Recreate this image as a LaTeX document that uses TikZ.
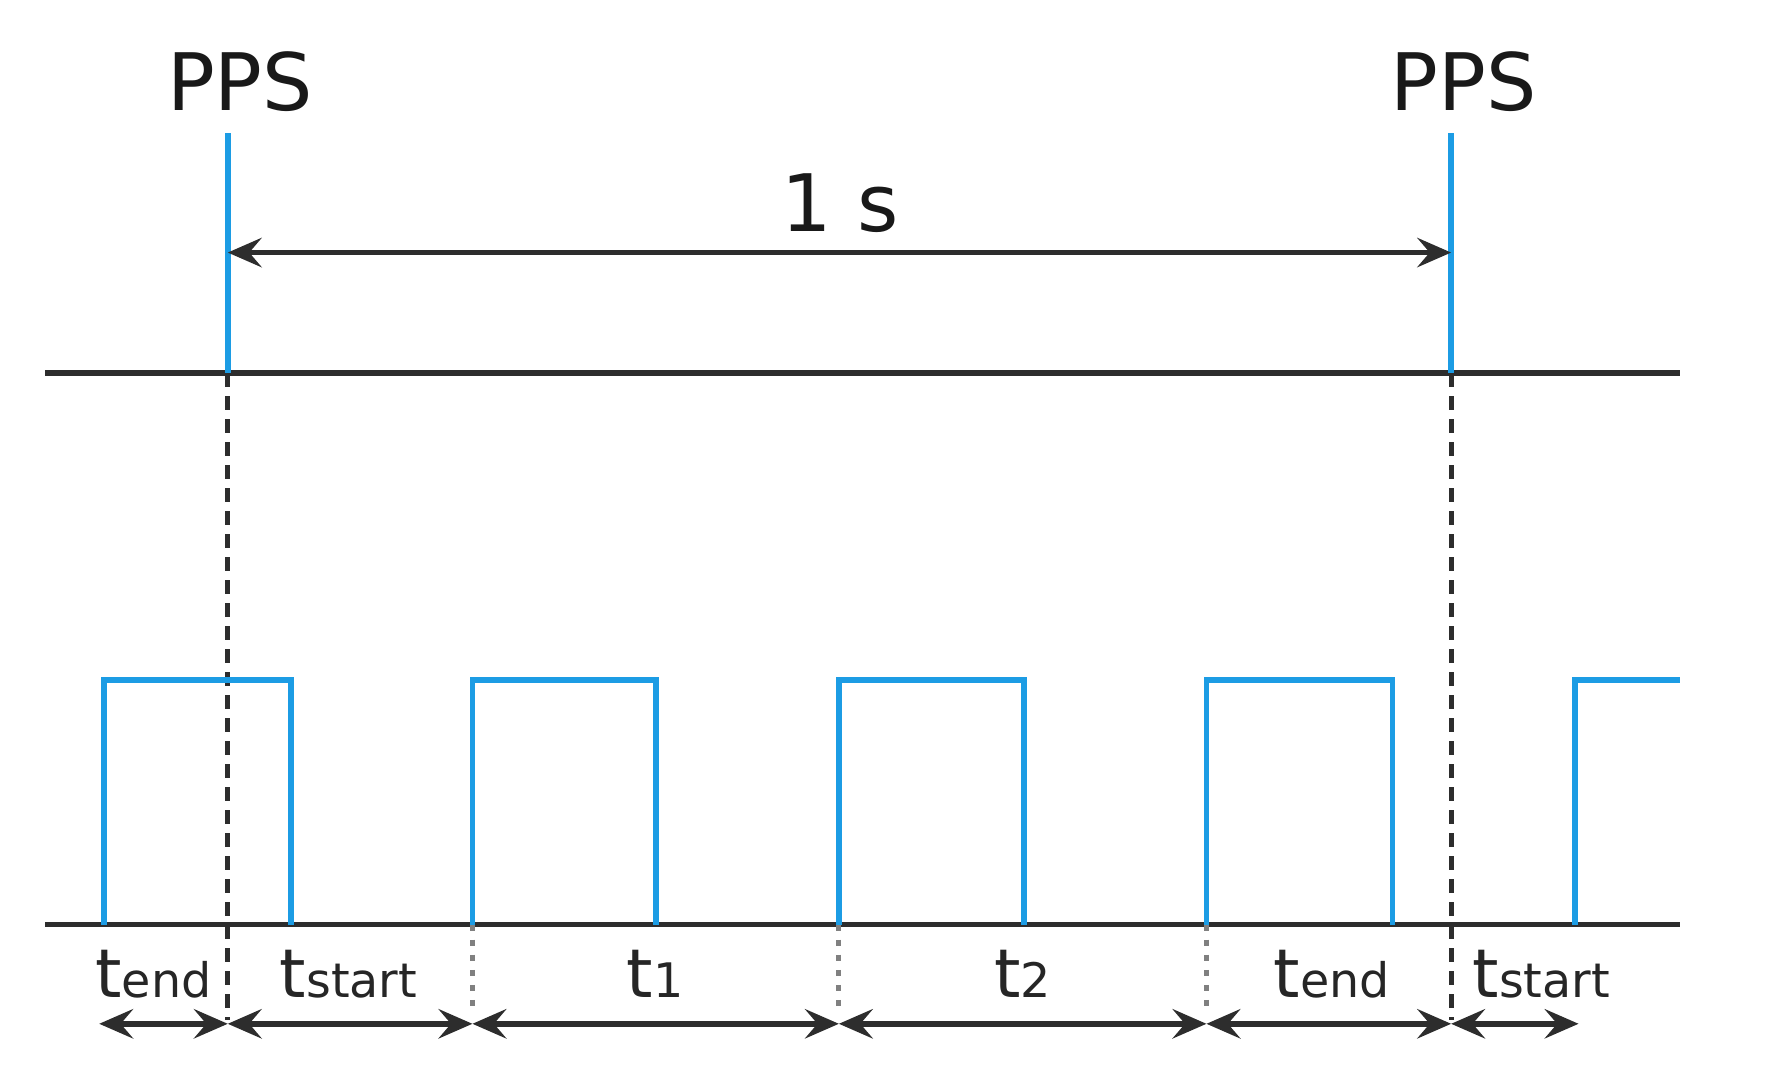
\documentclass[tikz,border=0pt]{standalone}
\usepackage{fontspec}
\setmainfont{DejaVu Sans}
\usepackage{tikz}
\usetikzlibrary{arrows.meta}
\definecolor{ppsblue}{RGB}{28,156,228}
\definecolor{axisgray}{RGB}{45,45,45}
\newcommand{\tlab}[1]{t{\fontsize{12}{12}\selectfont #1}}

\begin{document}
\begin{tikzpicture}[x=0.01cm, y=-0.01cm,
		axis/.style={draw=axisgray, line width=1.4pt},
		pulse/.style={draw=ppsblue, line width=1.4pt},
		ppsline/.style={draw=axisgray, line width=1.3pt, dash pattern=on 3.6pt off 2.2pt},
		tick/.style={draw=gray, line width=1.3pt, dash pattern=on 1.6pt off 2.2pt},
		big/.style={font=\fontsize{20}{20}\selectfont, text=black!90},
		tl/.style={font=\fontsize{17}{17}\selectfont, text=black!85, anchor=base, inner sep=0pt},
		>={Stealth[length=3mm, width=2.6mm, inset=1.1mm]}
		]
		\useasboundingbox (0,0) rectangle (1568,965);
		
		% axes
		\coordinate (a1) at (40,331);
		\coordinate (a2) at (1490,331);
		\coordinate (z1) at (40,820);
		\coordinate (z2) at (1490,820);
		\draw[axis] (a1) -- (a2);
		\draw[axis] (z1) -- (z2);
		
		% PPS markers
		\foreach \x [count=\i] in {202,1287} {
			\coordinate (ptop\i) at (\x,118);
			\coordinate (paxis\i) at (\x,331);
			\coordinate (pbot\i) at (\x,905);
			\node[big] (pps\i) at (\x+11,72) {PPS};
		}
		\draw[ppsline] (paxis1) -- (pbot1);
		\draw[ppsline] (paxis2) -- (pbot2);
		\draw[pulse] (ptop1) -- (paxis1);
		\draw[pulse] (ptop2) -- (paxis2);
		
		\coordinate (s1) at (202,224);
		\coordinate (s2) at (1287,224);
		\draw[axis, <->] (s1) -- (s2);
		\node[big] (sec) at (745,180) {1 s};
		
		% pulses
		\foreach \a/\b in {92/258, 419/582, 744/908, 1070/1235} {
			\draw[pulse] (\a,820) -- (\a,603) -- (\b,603) -- (\b,820);
		}
		\draw[pulse] (1397,820) -- (1397,603) -- (1490,603);
		
		% rising edges
		\foreach \x [count=\i] in {419,744,1070} {
			\coordinate (e\i) at (\x,820);
			\coordinate (f\i) at (\x,900);
			\draw[tick] (e\i) -- (f\i);
		}
		
		% intervals
		\foreach \x [count=\i] in {88,202,419,744,1070,1287,1400}
		\coordinate (b\i) at (\x,908);
		\foreach \i/\j in {1/2,2/3,3/4,4/5,5/6,6/7}
		\draw[axis, <->] (b\i) -- (b\j);
		
		\node[tl] (l1) at (136,885) {\tlab{end}};
		\node[tl] (l2) at (309,885) {\tlab{start}};
		\node[tl] (l3) at (581,885) {\tlab{1}};
		\node[tl] (l4) at (907,885) {\tlab{2}};
		\node[tl] (l5) at (1181,885) {\tlab{end}};
		\node[tl] (l6) at (1367,885) {\tlab{start}};
		
\end{tikzpicture}
\end{document}
